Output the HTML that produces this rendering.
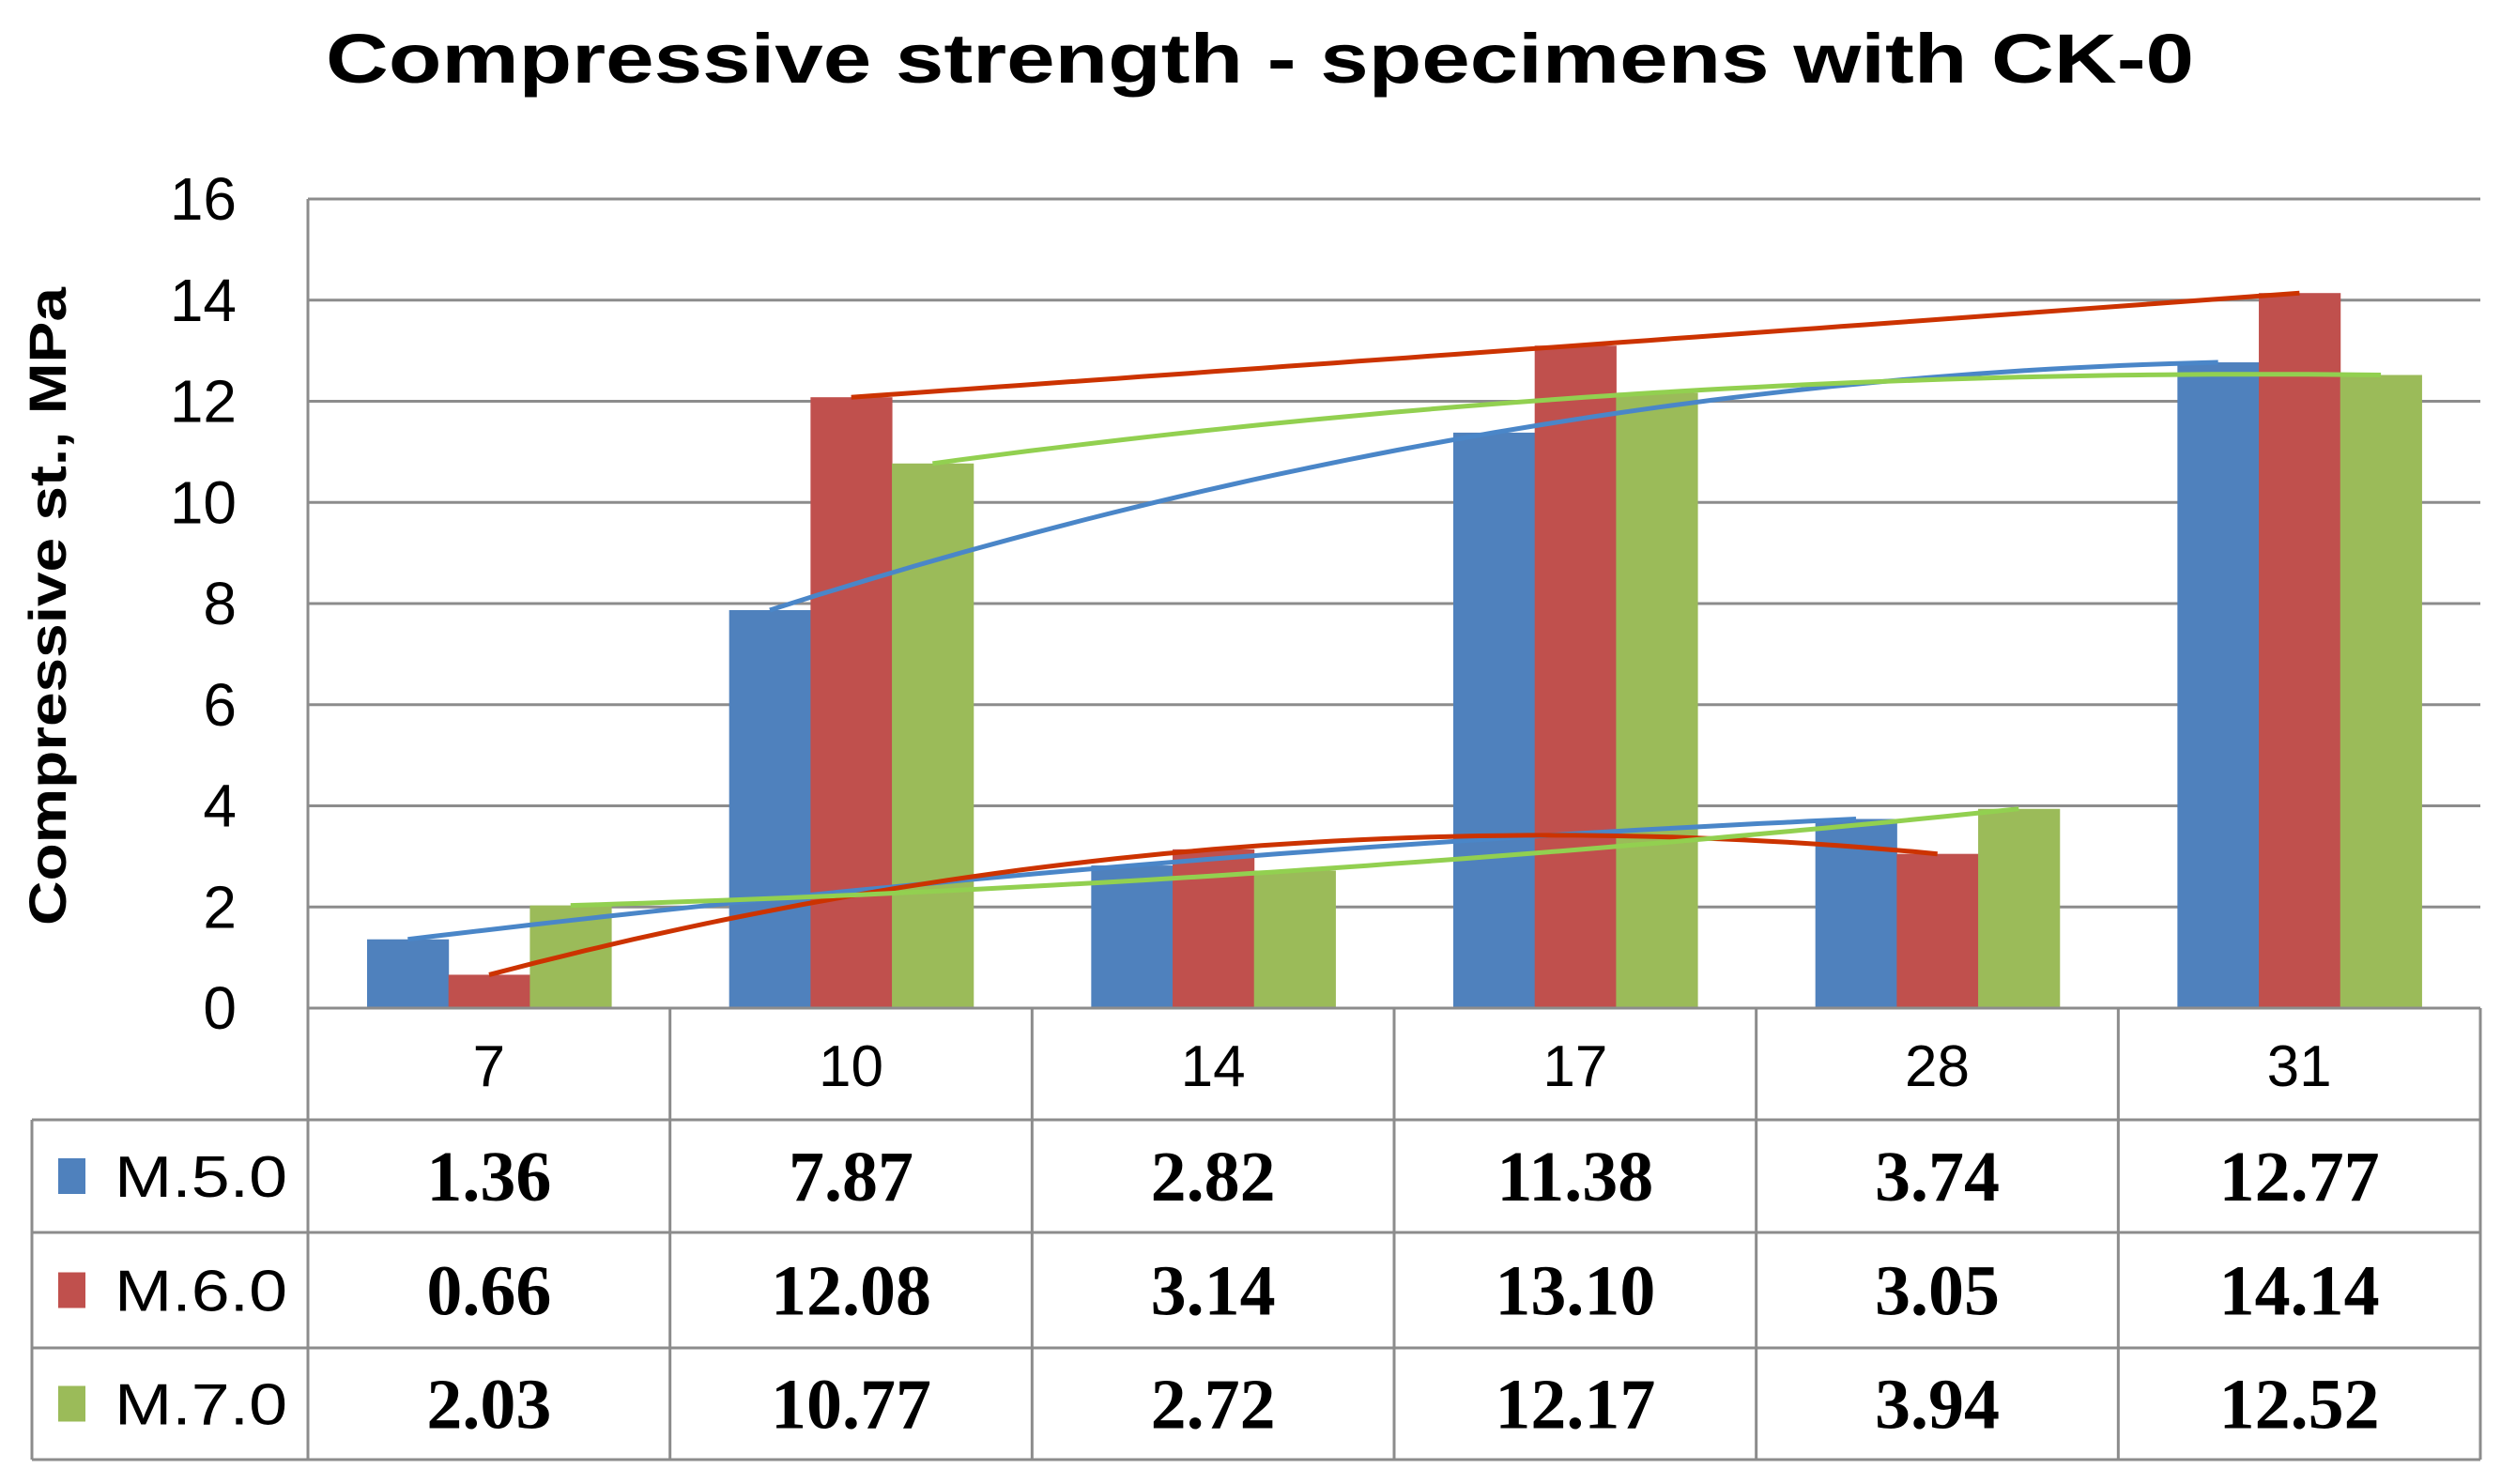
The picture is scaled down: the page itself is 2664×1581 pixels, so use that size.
<!DOCTYPE html>
<html><head><meta charset="utf-8"><style>
html,body{margin:0;padding:0;background:#fff;}
svg{display:block;}
</style></head><body>
<svg id="chart" width="2664" height="1581" viewBox="0 0 2664 1581" xmlns="http://www.w3.org/2000/svg">
<text x="1342" y="88" text-anchor="middle" font-family="Liberation Sans, sans-serif" font-weight="bold" font-size="74" textLength="1990" lengthAdjust="spacingAndGlyphs" fill="#000">Compressive strength - specimens with CK-0</text>
<text transform="translate(70,646) rotate(-90)" text-anchor="middle" font-family="Liberation Sans, sans-serif" font-weight="bold" font-size="56" textLength="680" lengthAdjust="spacingAndGlyphs" fill="#000">Compressive st., MPa</text>
<g id="grid"></g><g id="bars"></g><g id="trends"></g><g id="table"></g>
</svg>
<script>
const categories = ["7","10","14","17","28","31"];
const seriesNames = ["M.5.0","M.6.0","M.7.0"];
const m50 = [1.36,7.87,2.82,11.38,3.74,12.77];
const m60 = [0.66,12.08,3.14,13.10,3.05,14.14];
const m70 = [2.03,10.77,2.72,12.17,3.94,12.52];
const valueLabels = [
  ["1.36","7.87","2.82","11.38","3.74","12.77"],
  ["0.66","12.08","3.14","13.10","3.05","14.14"],
  ["2.03","10.77","2.72","12.17","3.94","12.52"]];
const yTicks = [0,2,4,6,8,10,12,14,16];
const lowGroup = [0,2,4];
const highGroup = [1,3,5];

const NS="http://www.w3.org/2000/svg";
const L=328,R=2642,T=212,B=1074,yMax=16;
const colW=(R-L)/categories.length, barW=86.7, off=63;
const barCol=["#4F81BD","#C0504D","#9BBB59"];
const lineCol=["#4A86C8","#CC3300","#92D050"];
const series=[m50,m60,m70];
function y(v){return B-(v/yMax)*(B-T);}
function xBar(i,s){return L+i*colW+off+s*barW;}
function xc(i,s){return xBar(i,s)+barW/2;}
function mk(tag,attrs,parent){const e=document.createElementNS(NS,tag);for(const k in attrs)e.setAttribute(k,attrs[k]);parent.appendChild(e);return e;}
const grid=document.getElementById('grid'),bars=document.getElementById('bars'),trends=document.getElementById('trends'),table=document.getElementById('table');
yTicks.forEach(t=>{
  const ln=mk('line',{x1:L,x2:R,y1:y(t),y2:y(t),stroke:'#8c8c8c','stroke-width':3},grid);
  
  
  const tx=mk('text',{x:252,y:y(t)+22,'text-anchor':'end','font-family':'Liberation Sans, sans-serif','font-size':64,fill:'#000'},grid);
  tx.textContent=t;
  
  
});
const ax=mk('line',{x1:L,x2:L,y1:T,y2:B,stroke:'#8c8c8c','stroke-width':3},grid);


series.forEach((vals,s)=>{vals.forEach((v,i)=>{
  const r=mk('rect',{x:xBar(i,s),y:y(v),width:barW+0.5,height:B-y(v),fill:barCol[s]},bars);
  
  
});});
function quadPath(vals,s,idx){
  const xs=idx.map(i=>xc(i,s)), ys=idx.map(i=>vals[i]);
  const [x0,x1,x2]=xs,[y0,y1,y2]=ys;
  function f(x){return y0*(x-x1)*(x-x2)/((x0-x1)*(x0-x2))+y1*(x-x0)*(x-x2)/((x1-x0)*(x1-x2))+y2*(x-x0)*(x-x1)/((x2-x0)*(x2-x1));}
  let d='';for(let k=0;k<=60;k++){const x=x0+(x2-x0)*k/60;d+=(k?'L':'M')+x.toFixed(1)+','+y(f(x)).toFixed(1);}
  return d;
}
series.forEach((vals,s)=>{
  [[lowGroup,'low'],[highGroup,'high']].forEach(([idx,nm])=>{
    const p=mk('path',{d:quadPath(vals,s,idx),fill:'none',stroke:lineCol[s],'stroke-width':5},trends);
    
    
  });
});
const rows=[1074,1193,1313,1436,1555], TL=34;
const g='#8c8c8c';
function tl(x1,y1,x2,y2,n){const e=mk('line',{x1,y1,x2,y2,stroke:g,'stroke-width':3},table);}
tl(L,rows[0],R,rows[0],'table-top-line');
for(let r=1;r<rows.length;r++)tl(TL,rows[r],R,rows[r],'table-row-line');
for(let c=0;c<=categories.length;c++)tl(L+c*colW,rows[0],L+c*colW,rows[4],'table-col-line');
tl(TL,rows[1],TL,rows[4],'table-left-line');
categories.forEach((c,i)=>{
  const t=mk('text',{x:L+(i+.5)*colW,y:1157,'text-anchor':'middle','font-family':'Liberation Sans, sans-serif','font-size':62,fill:'#000'},table);
  t.textContent=c;
  
  
});
seriesNames.forEach((n,s)=>{
  const cy=(rows[s+1]+rows[s+2])/2;
  const sw=mk('rect',{x:62,y:cy-19,width:29,height:38,fill:barCol[s]},table);
  
  
  const t=mk('text',{x:122,y:cy+22,'font-family':'Liberation Sans, sans-serif','font-size':62,textLength:184,lengthAdjust:'spacingAndGlyphs',fill:'#000'},table);
  t.textContent=n;
  
  
  valueLabels[s].forEach((v,i)=>{
    const vt=mk('text',{x:L+(i+.5)*colW,y:cy+26,'text-anchor':'middle','font-family':'Liberation Serif, serif','font-weight':'bold','font-size':76,fill:'#000'},table);
    vt.textContent=v;
    
    
  });
});
</script>
</body></html>
